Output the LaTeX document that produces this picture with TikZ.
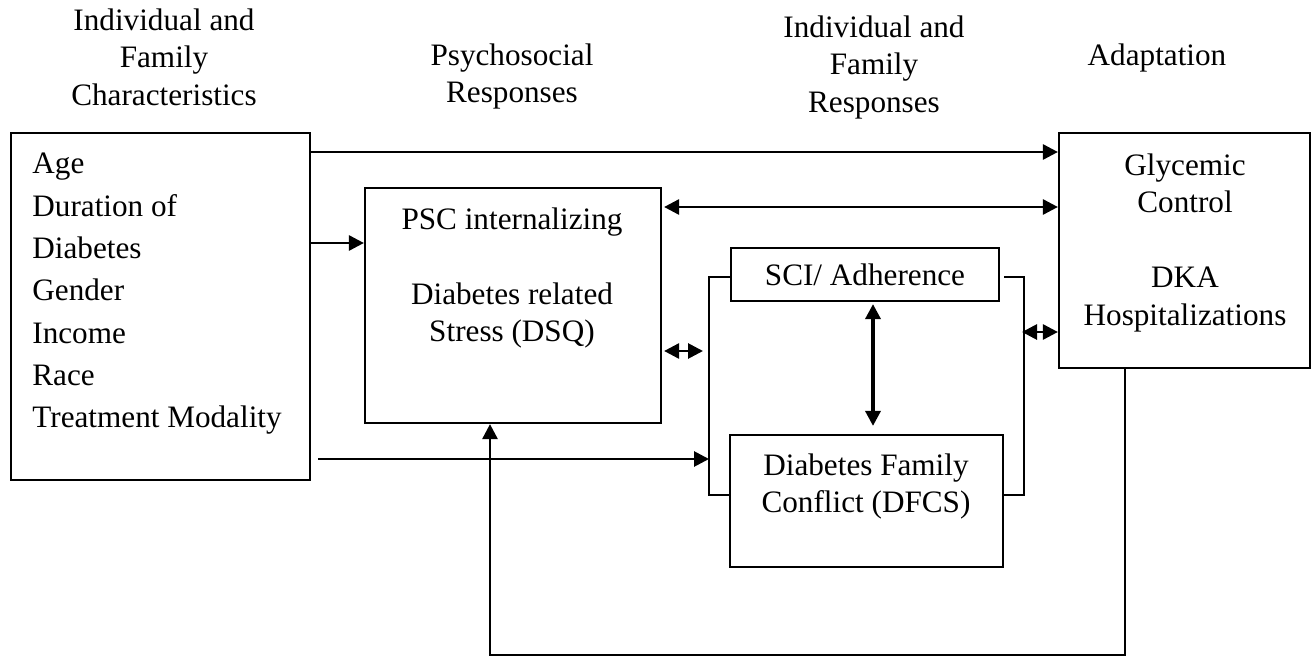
\documentclass[tikz,border=0pt]{standalone}
\usepackage{fontspec}
\setmainfont{Liberation Serif}
\usetikzlibrary{positioning}
\usetikzlibrary{arrows.meta}
\usetikzlibrary{calc}
\tikzset{
  bloque/.style={
    rectangle, draw=black, line width=1.1pt, inner sep=0pt
  },
  texto/.style={
    align=center, inner sep=0pt, font=\fontsize{15.6}{18.75}\selectfont
  },
  encabezado/.style={texto, anchor=north},
  flecha/.style={-{Triangle[length=7.5pt,width=7.5pt]}, line width=1.4pt},
  flechad/.style={{Triangle[length=7.5pt,width=7.5pt]}-{Triangle[length=7.5pt,width=7.5pt]}, line width=1.4pt},
  linea/.style={line width=1.1pt}
}

\begin{document}
\begin{tikzpicture}[x=0.5pt, y=-0.5pt]
  \useasboundingbox (0,0) rectangle (1312,658);

  % column titles
  \node[encabezado] (tit1) at (164,8) {Individual and\\Family\\Characteristics};
  \node[encabezado] (tit2) at (512,43) {Psychosocial\\Responses};
  \node[encabezado] (tit3) at (874,15) {Individual and\\Family\\Responses};
  \node[encabezado] (tit4) at (1157,43) {Adaptation};

  % boxes
  \node[bloque, minimum width=149.5pt, minimum height=173.5pt] (car) at (160.5,306.5) {};
  \node[texto, anchor=north west, align=left, font=\fontsize{15.6}{21.15}\selectfont] (cartxt) at (32,153)
    {Age\\Duration of\\Diabetes\\Gender\\Income\\Race\\Treatment Modality};
  \node[bloque, minimum width=148pt, minimum height=117.5pt] (psc) at (513,305.5) {};
  \node[encabezado] (psctxt) at (512,207) {PSC internalizing\\[18.75pt]Diabetes related\\Stress (DSQ)};
  \node[bloque, texto, minimum width=134pt, minimum height=26.5pt] (sci) at (865,274.5) {SCI/ Adherence};
  \node[bloque, minimum width=136.5pt, minimum height=66pt] (dfcs) at (866.5,501) {};
  \node[encabezado] (dfcstxt) at (866,453) {Diabetes Family\\Conflict (DFCS)};
  \node[bloque, minimum width=125.5pt, minimum height=117.5pt] (adapt) at (1184.5,250.5) {};
  \node[encabezado] (adapttxt) at (1185,153) {Glycemic\\Control\\[18.75pt]DKA\\Hospitalizations};

  % levels and corners
  \coordinate (nA) at (0,152);
  \coordinate (nB) at (0,207);
  \coordinate (nC) at (0,243);
  \coordinate (nD) at (0,351);
  \coordinate (nE) at (0,332);
  \coordinate (nF) at (0,459);
  \coordinate (vx) at (873,0);
  \coordinate (brL) at (709,277);
  \coordinate (brLb) at (709,495);
  \coordinate (brR) at (1024,277);
  \coordinate (brRb) at (1024,495);
  \coordinate (fbR) at (1125,655);
  \coordinate (fbL) at (490,655);

  % bracket round the family responses
  \draw[linea] (brL -| sci.west) -- (brL) -- (brLb) -- (brLb -| dfcs.west);
  \draw[linea] (brR -| dfcs.east) -- (brR) -- (brRb) -- (brRb -| dfcs.east);

  % arrows
  \draw[flecha] (car.east |- nA) -- (adapt.west |- nA);
  \draw[flechad, shorten <=1pt] (psc.east |- nB) -- (adapt.west |- nB);
  \draw[flecha] (car.east |- nC) -- (psc.west |- nC);
  \draw[flechad, shorten <=1pt, shorten >=3pt] (psc.east |- nD) -- (brL |- nD);
  \draw[flechad, shorten <=-1pt] (brR |- nE) -- (adapt.west |- nE);
  \draw[flechad, line width=1.7pt, shorten <=1pt, shorten >=4pt] (sci.south -| vx) -- (dfcs.north -| vx);
  \draw[flecha, shorten <=3.5pt] (car.east |- nF) -- (brL |- nF);
  \draw[flecha] (adapt.south -| fbR) -- (fbR) -- (fbL) -- (psc.south -| fbL);
\end{tikzpicture}
\end{document}
